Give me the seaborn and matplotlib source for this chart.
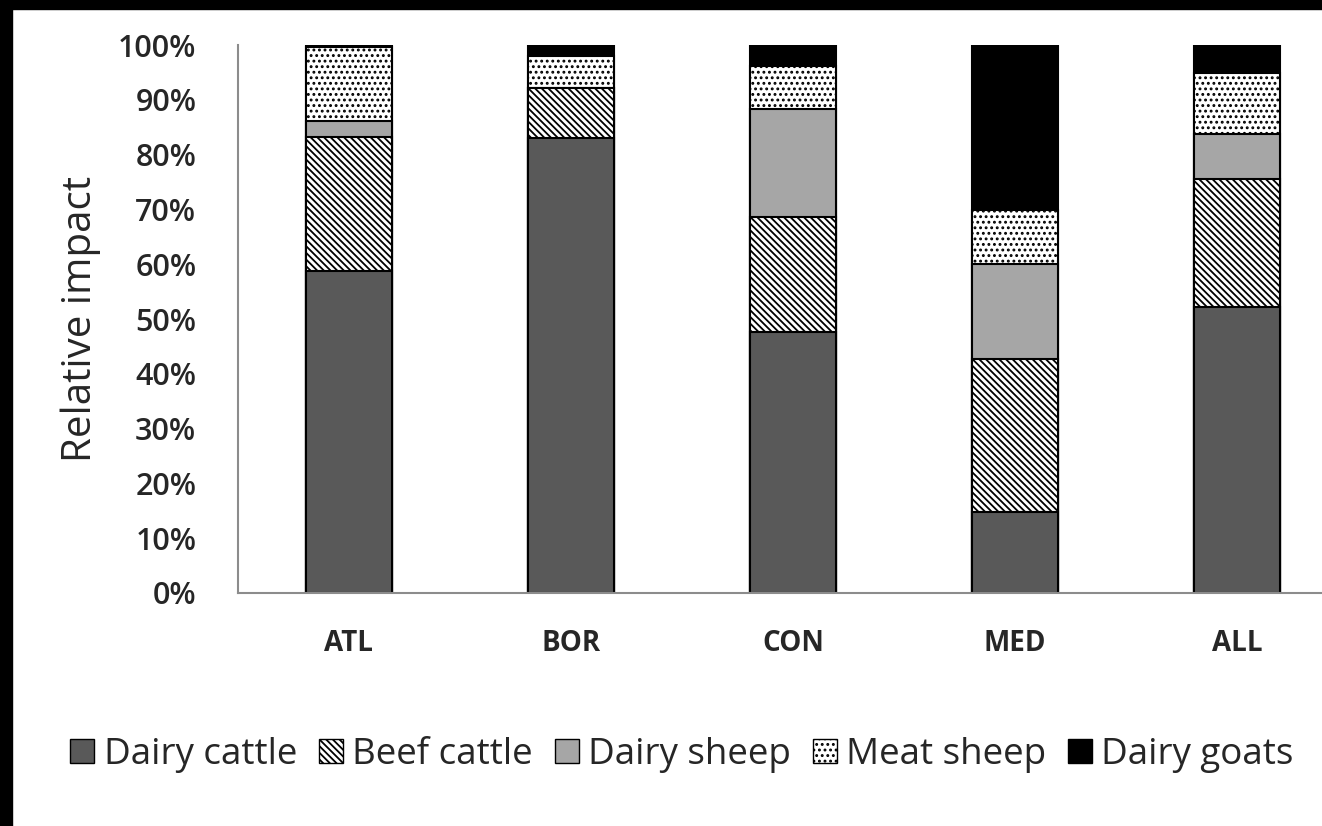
import matplotlib
matplotlib.use("Agg")
import matplotlib.pyplot as plt
import seaborn as sns
import pandas as pd
import numpy as np
from matplotlib.patches import Patch, Rectangle
from matplotlib.ticker import PercentFormatter

# relative impact (%) per region and livestock type
regions = ["ATL", "BOR", "CON", "MED", "ALL"]
dairy_cattle = [58.7, 83.0, 47.6, 14.7, 52.1]
beef_cattle = [24.5, 9.2, 21.1, 28.0, 23.4]
dairy_sheep = [3.0, 0.0, 19.6, 17.3, 8.2]
meat_sheep = [13.4, 5.8, 7.9, 9.9, 11.2]
dairy_goats = [0.4, 2.0, 3.8, 30.1, 5.1]

series = ["Dairy cattle", "Beef cattle", "Dairy sheep", "Meat sheep", "Dairy goats"]
colors = ["#595959", "white", "#a6a6a6", "white", "black"]
hatches = [None, "\\\\\\\\\\", None, "...", None]

sns.set_style("white")
plt.rcParams["font.family"] = ["Open Sans", "DejaVu Sans"]
plt.rcParams["hatch.linewidth"] = 1.3

df = pd.DataFrame({"region": regions, "Dairy cattle": dairy_cattle,
                   "Beef cattle": beef_cattle, "Dairy sheep": dairy_sheep,
                   "Meat sheep": meat_sheep, "Dairy goats": dairy_goats})
cum = df[series].cumsum(axis=1)

fig = plt.figure(figsize=(13.22, 8.26), dpi=100)
ax = fig.add_axes([0.180, 0.2821, 0.8396, 0.6634])

# draw cumulative totals from the top layer down so each one covers the rest
for i in range(len(series) - 1, -1, -1):
    sns.barplot(x=df["region"], y=cum[series[i]], color=colors[i], saturation=1,
                hatch=hatches[i], edgecolor="black", linewidth=1.5, width=0.39, ax=ax)

ax.set_ylim(0, 100)
ax.set_xlim(-0.5, 4.5)
ax.set_yticks(np.arange(0, 101, 10))
ax.yaxis.set_major_formatter(PercentFormatter(decimals=0))
ax.tick_params(axis="y", length=0, pad=30, labelsize=22)
ax.tick_params(axis="x", length=0, pad=26, labelsize=20)
for lab in ax.get_xticklabels():
    lab.set_fontweight("bold")
for lab in ax.get_yticklabels():
    lab.set_fontweight("semibold")
ax.set_xlabel("")
ax.set_ylabel("Relative impact", fontsize=29, labelpad=12)
for s in ["top", "right"]:
    ax.spines[s].set_visible(False)
for s in ["left", "bottom"]:
    ax.spines[s].set_color("#8c8c8c")
    ax.spines[s].set_linewidth(1.5)

handles = [Patch(facecolor=colors[i], hatch=hatches[i], edgecolor="black",
                 linewidth=1.0, label=series[i]) for i in range(len(series))]
fig.legend(handles=handles, loc="center", bbox_to_anchor=(0.516, 0.086), ncol=5,
           frameon=False, fontsize=26.5, handlelength=0.65, handleheight=0.65,
           handletextpad=0.25, columnspacing=0.6, borderaxespad=0)

# black frame strips along the top and left of the original picture
fig.patches.append(Rectangle((0, 1 - 9 / 826), 1, 9 / 826, transform=fig.transFigure,
                             color="black", zorder=10))
fig.patches.append(Rectangle((0, 0), 12 / 1322, 1, transform=fig.transFigure,
                             color="black", zorder=10))

fig.savefig("out.png", dpi=100)
